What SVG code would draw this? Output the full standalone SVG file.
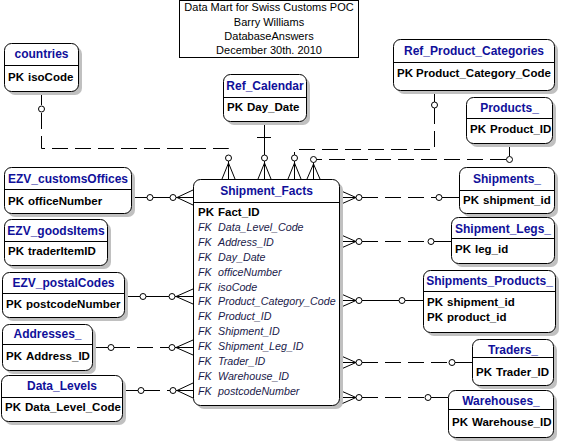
<svg xmlns="http://www.w3.org/2000/svg" width="562" height="442" viewBox="0 0 562 442">
<style>
text{font-family:"Liberation Sans",Arial,sans-serif}
.bg{fill:#fff}
.sh{fill:#c0c0c0}
.bx{fill:#fff;stroke:#000;stroke-width:1}
.hl{stroke:#000;stroke-width:1}
.tt{font-size:12px;font-weight:bold;fill:#10109a;text-anchor:middle}
.pk{font-size:11.5px;font-weight:bold;fill:#000}
.fk{font-size:10.7px;font-style:italic;fill:#1a1a4a}
.note{font-size:11px;fill:#000;text-anchor:middle}
.ln{fill:none;stroke:#000;stroke-width:1}
.ds{fill:none;stroke:#000;stroke-width:1;stroke-dasharray:16 7}
.ci{fill:#fff;stroke:#000;stroke-width:1}
</style>
<rect class="bg" x="0" y="0" width="562" height="442"/>

<g id="title">
<rect x="179.5" y="0.5" width="179" height="57" fill="#fff" stroke="#000"/>
<text class="note" x="269" y="11">Data Mart for Swiss Customs POC</text>
<text class="note" x="269" y="26">Barry Williams</text>
<text class="note" x="269" y="40">DatabaseAnswers</text>
<text class="note" x="269" y="54">December 30th. 2010</text>
</g>

<g id="connectors">
<!-- countries -->
<path class="ln" d="M41.5,91 V105"/>
<path class="ds" d="M41.5,113 V148.5 H228.5 V154"/>
<circle class="ci" cx="41.5" cy="109" r="3"/>
<circle class="ci" cx="228.5" cy="158" r="3"/>
<path class="ln" d="M228.5,161 V179 M228.5,163 L222,179 M228.5,163 L235,179"/>
<!-- Ref_Calendar -->
<path class="ln" d="M264.5,121 V155 M257,137.5 H271"/>
<circle class="ci" cx="264.5" cy="158" r="3"/>
<path class="ln" d="M264.5,161 V179 M264.5,163 L258,179 M264.5,163 L271,179"/>
<!-- Ref_Product_Categories -->
<path class="ln" d="M434.5,90 V102"/>
<path class="ds" d="M434.5,108 V149.5 H294.5 V155"/>
<circle class="ci" cx="434.5" cy="105" r="3"/>
<circle class="ci" cx="294.5" cy="158" r="3"/>
<path class="ln" d="M294.5,161 V179 M294.5,163 L288,179 M294.5,163 L301,179"/>
<!-- Products_ -->
<path class="ln" d="M509.5,143 V156"/>
<path class="ds" d="M506,159.5 H316"/>
<circle class="ci" cx="509.5" cy="159.5" r="3"/>
<circle class="ci" cx="313.5" cy="159.5" r="3"/>
<path class="ln" d="M313.5,162.5 V179 M313.5,164 L307,179 M313.5,164 L320,179"/>

<!-- EZV_customsOffices -->
<path class="ln" d="M131,197.5 H147 M153,197.5 H170 M176,197.5 H193 M177,197.5 L193,190 M177,197.5 L193,205"/>
<circle class="ci" cx="150" cy="197.5" r="3"/>
<circle class="ci" cx="173" cy="197.5" r="3"/>
<!-- EZV_postalCodes -->
<path class="ln" d="M124,296.5 H140 M146,296.5 H169 M175,296.5 H193 M176,296.5 L193,289 M176,296.5 L193,304"/>
<circle class="ci" cx="143" cy="296.5" r="3"/>
<circle class="ci" cx="172" cy="296.5" r="3"/>
<!-- Addresses_ -->
<path class="ln" d="M92,347.5 H108 M175,347.5 H193 M176,347.5 L193,340 M176,347.5 L193,355"/>
<path class="ds" d="M114,347.5 H169"/>
<circle class="ci" cx="111" cy="347.5" r="3"/>
<circle class="ci" cx="172" cy="347.5" r="3"/>
<!-- Data_Levels -->
<path class="ln" d="M122,390.5 H138 M176,390.5 H193 M177,390.5 L193,383 M177,390.5 L193,398"/>
<path class="ds" d="M144,390.5 H170"/>
<circle class="ci" cx="141" cy="390.5" r="3"/>
<circle class="ci" cx="173" cy="390.5" r="3"/>

<!-- Shipments_ -->
<path class="ln" d="M339,197.5 H356 M339,190 L356,197.5 M339,205 L356,197.5 M442,197.5 H459"/>
<path class="ds" d="M362,197.5 H436"/>
<circle class="ci" cx="359" cy="197.5" r="3"/>
<circle class="ci" cx="439" cy="197.5" r="3"/>
<!-- Shipment_Legs_ -->
<path class="ln" d="M339,241.5 H356 M339,234 L356,241.5 M339,249 L356,241.5 M434,241.5 H451"/>
<path class="ds" d="M362,241.5 H428"/>
<circle class="ci" cx="359" cy="241.5" r="3"/>
<circle class="ci" cx="431" cy="241.5" r="3"/>
<!-- Shipments_Products_ -->
<path class="ln" d="M339,300.5 H356 M339,293 L356,300.5 M339,308 L356,300.5 M362,300.5 H399 M405,300.5 H423"/>
<circle class="ci" cx="359" cy="300.5" r="3"/>
<circle class="ci" cx="402" cy="300.5" r="3"/>
<!-- Traders_ -->
<path class="ln" d="M339,362.5 H356 M339,355 L356,362.5 M339,370 L356,362.5 M455,362.5 H472"/>
<path class="ds" d="M362,362.5 H449"/>
<circle class="ci" cx="359" cy="362.5" r="3"/>
<circle class="ci" cx="452" cy="362.5" r="3"/>
<!-- Warehouses_ -->
<path class="ln" d="M339,397.5 H356 M339,390 L356,397.5 M339,405 L356,397.5 M431,397.5 H448"/>
<path class="ds" d="M362,397.5 H425"/>
<circle class="ci" cx="359" cy="397.5" r="3"/>
<circle class="ci" cx="428" cy="397.5" r="3"/>
</g>

<g id="countries">
<rect class="sh" x="8" y="47" width="74" height="48" rx="7"/>
<rect class="bx" x="4.5" y="43.5" width="74" height="48" rx="7"/>
<line class="hl" x1="4.5" y1="65.5" x2="78.5" y2="65.5"/>
<text class="tt" x="41.5" y="58">countries</text>
<text class="pk" x="8" y="81">PK<tspan x="28">isoCode</tspan></text>
</g>

<g id="Ref_Calendar">
<rect class="sh" x="227" y="78" width="83" height="47" rx="7"/>
<rect class="bx" x="223.5" y="74.5" width="83" height="47" rx="7"/>
<line class="hl" x1="223.5" y1="97.5" x2="306.5" y2="97.5"/>
<text class="tt" x="265" y="90">Ref_Calendar</text>
<text class="pk" x="227" y="111">PK<tspan x="247">Day_Date</tspan></text>
</g>

<g id="Ref_Product_Categories">
<rect class="sh" x="397" y="43" width="161" height="51" rx="7"/>
<rect class="bx" x="393.5" y="39.5" width="161" height="51" rx="7"/>
<line class="hl" x1="393.5" y1="62.5" x2="554.5" y2="62.5"/>
<text class="tt" x="474" y="55">Ref_Product_Categories</text>
<text class="pk" x="397" y="77">PK<tspan x="416">Product_Category_Code</tspan></text>
</g>

<g id="Products_">
<rect class="sh" x="470" y="101" width="86" height="46" rx="7"/>
<rect class="bx" x="466.5" y="97.5" width="86" height="46" rx="7"/>
<line class="hl" x1="466.5" y1="118.5" x2="552.5" y2="118.5"/>
<text class="tt" x="509.5" y="112">Products_</text>
<text class="pk" x="470" y="133">PK<tspan x="490">Product_ID</tspan></text>
</g>

<g id="Shipments_">
<rect class="sh" x="463" y="171" width="95" height="46" rx="7"/>
<rect class="bx" x="459.5" y="167.5" width="95" height="46" rx="7"/>
<line class="hl" x1="459.5" y1="190.5" x2="554.5" y2="190.5"/>
<text class="tt" x="507" y="183">Shipments_</text>
<text class="pk" x="463" y="204">PK<tspan x="483">shipment_id</tspan></text>
</g>

<g id="Shipment_Legs_">
<rect class="sh" x="455" y="221" width="103" height="46" rx="7"/>
<rect class="bx" x="451.5" y="217.5" width="103" height="46" rx="7"/>
<line class="hl" x1="451.5" y1="238.5" x2="554.5" y2="238.5"/>
<text class="tt" x="503" y="233">Shipment_Legs_</text>
<text class="pk" x="455" y="253">PK<tspan x="475">leg_id</tspan></text>
</g>

<g id="Shipments_Products_">
<rect class="sh" x="427" y="274" width="132" height="62" rx="7"/>
<rect class="bx" x="423.5" y="270.5" width="132" height="62" rx="7"/>
<line class="hl" x1="423.5" y1="291.5" x2="555.5" y2="291.5"/>
<text class="tt" x="489.5" y="285">Shipments_Products_</text>
<text class="pk" x="427" y="306">PK<tspan x="447">shipment_id</tspan></text>
<text class="pk" x="427" y="321">PK<tspan x="447">product_id</tspan></text>
</g>

<g id="Traders_">
<rect class="sh" x="476" y="343" width="81" height="46" rx="7"/>
<rect class="bx" x="472.5" y="339.5" width="81" height="46" rx="7"/>
<line class="hl" x1="472.5" y1="357.5" x2="553.5" y2="357.5"/>
<text class="tt" x="513" y="354">Traders_</text>
<text class="pk" x="476" y="376">PK<tspan x="496">Trader_ID</tspan></text>
</g>

<g id="Warehouses_">
<rect class="sh" x="452" y="394" width="105" height="47" rx="7"/>
<rect class="bx" x="448.5" y="390.5" width="105" height="47" rx="7"/>
<line class="hl" x1="448.5" y1="409.5" x2="553.5" y2="409.5"/>
<text class="tt" x="501" y="405">Warehouses_</text>
<text class="pk" x="452" y="426">PK<tspan x="472">Warehouse_ID</tspan></text>
</g>

<g id="EZV_customsOffices">
<rect class="sh" x="8" y="171" width="127" height="46" rx="7"/>
<rect class="bx" x="4.5" y="167.5" width="127" height="46" rx="7"/>
<line class="hl" x1="4.5" y1="189.5" x2="131.5" y2="189.5"/>
<text class="tt" x="68" y="183">EZV_customsOffices</text>
<text class="pk" x="8" y="205">PK<tspan x="28">officeNumber</tspan></text>
</g>

<g id="EZV_goodsItems">
<rect class="sh" x="8" y="223" width="103" height="46" rx="7"/>
<rect class="bx" x="4.5" y="219.5" width="103" height="46" rx="7"/>
<line class="hl" x1="4.5" y1="241.5" x2="107.5" y2="241.5"/>
<text class="tt" x="56" y="235">EZV_goodsItems</text>
<text class="pk" x="8" y="255">PK<tspan x="28">traderItemID</tspan></text>
</g>

<g id="EZV_postalCodes">
<rect class="sh" x="6" y="276" width="122" height="45" rx="7"/>
<rect class="bx" x="2.5" y="272.5" width="122" height="45" rx="7"/>
<line class="hl" x1="2.5" y1="293.5" x2="124.5" y2="293.5"/>
<text class="tt" x="63.5" y="287">EZV_postalCodes</text>
<text class="pk" x="6" y="308">PK<tspan x="26">postcodeNumber</tspan></text>
</g>

<g id="Addresses_">
<rect class="sh" x="6" y="328" width="90" height="46" rx="7"/>
<rect class="bx" x="2.5" y="324.5" width="90" height="46" rx="7"/>
<line class="hl" x1="2.5" y1="344.5" x2="92.5" y2="344.5"/>
<text class="tt" x="47.5" y="338">Addresses_</text>
<text class="pk" x="6" y="360">PK<tspan x="26">Address_ID</tspan></text>
</g>

<g id="Data_Levels">
<rect class="sh" x="5" y="379" width="121" height="46" rx="7"/>
<rect class="bx" x="1.5" y="375.5" width="121" height="46" rx="7"/>
<line class="hl" x1="1.5" y1="397.5" x2="122.5" y2="397.5"/>
<text class="tt" x="62" y="390">Data_Levels</text>
<text class="pk" x="5" y="411">PK<tspan x="25">Data_Level_Code</tspan></text>
</g>

<g id="Shipment_Facts">
<rect class="sh" x="197" y="183" width="146" height="226" rx="7"/>
<rect class="bx" x="193.5" y="179.5" width="146" height="226" rx="7"/>
<line class="hl" x1="193.5" y1="202.5" x2="339.5" y2="202.5"/>
<text class="tt" x="266.5" y="195">Shipment_Facts</text>
<text class="pk" x="198" y="216">PK<tspan x="218">Fact_ID</tspan></text>
<text class="fk" x="198" y="231">FK<tspan x="218">Data_Level_Code</tspan></text>
<text class="fk" x="198" y="246">FK<tspan x="218">Address_ID</tspan></text>
<text class="fk" x="198" y="260.7">FK<tspan x="218">Day_Date</tspan></text>
<text class="fk" x="198" y="275.6">FK<tspan x="218">officeNumber</tspan></text>
<text class="fk" x="198" y="290.5">FK<tspan x="218">isoCode</tspan></text>
<text class="fk" x="198" y="305.4">FK<tspan x="218">Product_Category_Code</tspan></text>
<text class="fk" x="198" y="320.3">FK<tspan x="218">Product_ID</tspan></text>
<text class="fk" x="198" y="335.2">FK<tspan x="218">Shipment_ID</tspan></text>
<text class="fk" x="198" y="350.1">FK<tspan x="218">Shipment_Leg_ID</tspan></text>
<text class="fk" x="198" y="365">FK<tspan x="218">Trader_ID</tspan></text>
<text class="fk" x="198" y="379.9">FK<tspan x="218">Warehouse_ID</tspan></text>
<text class="fk" x="198" y="394.8">FK<tspan x="218">postcodeNumber</tspan></text>
</g>
</svg>
